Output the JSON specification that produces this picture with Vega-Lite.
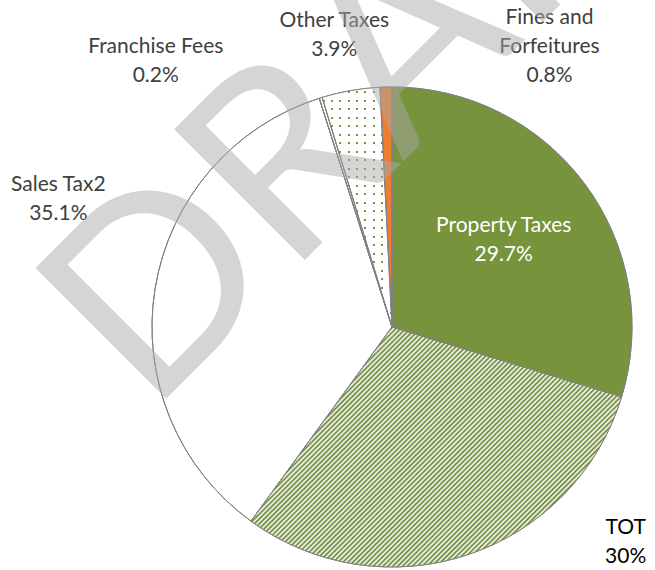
{
"$schema": "https://vega.github.io/schema/vega-lite/v6.json",
"width": 480, "height": 480,
"autosize": {"type": "none"},
"padding": {"left": 152, "top": 87, "right": 23, "bottom": 3},
"background": "white",
"config": {"view": {"stroke": null}},
"layer": [
{
"data": {"values": [
{"category": "Property Taxes", "value": 29.7, "order": 1, "label": "Property Taxes\n29.7%"},
{"category": "TOT", "value": 30.3, "order": 2, "label": "TOT\n30%"},
{"category": "Sales Tax2", "value": 35.1, "order": 3, "label": "Sales Tax2\n35.1%"},
{"category": "Franchise Fees", "value": 0.2, "order": 4, "label": "Franchise Fees\n0.2%"},
{"category": "Other Taxes", "value": 3.9, "order": 5, "label": "Other Taxes\n3.9%"},
{"category": "Fines and Forfeitures", "value": 0.8, "order": 6, "label": "Fines and\nForfeitures\n0.8%"}
]},
"encoding": {
"theta": {"field": "value", "type": "quantitative", "stack": true},
"order": {"field": "order", "type": "quantitative"}
},
"layer": [
{"mark": {"type": "arc", "outerRadius": 240, "stroke": "#808080", "strokeWidth": 1},
"encoding": {"fill": {"condition": [{"test": "datum.category === 'Property Taxes'", "value": "#77933c"}, {"test": "datum.category === 'Fines and Forfeitures'", "value": "#ed7d31"}, {"test": "datum.category === 'Other Taxes'", "value": "#77933c"}], "value": "#ffffff"}}},
{"mark": {"type": "arc", "outerRadius": 240, "strokeWidth": 0, "fill": {"gradient": "linear", "x1": 0, "y1": 0, "x2": 1, "y2": 0, "stops": [
{"offset":0,"color":"#fff"},
{"offset":0.006,"color":"#fff"},{"offset":0.006,"color":"rgba(255,255,255,0)"},{"offset":0.034,"color":"rgba(255,255,255,0)"},{"offset":0.034,"color":"#fff"},
{"offset":0.126,"color":"#fff"},{"offset":0.126,"color":"rgba(255,255,255,0)"},{"offset":0.154,"color":"rgba(255,255,255,0)"},{"offset":0.154,"color":"#fff"},
{"offset":0.246,"color":"#fff"},{"offset":0.246,"color":"rgba(255,255,255,0)"},{"offset":0.274,"color":"rgba(255,255,255,0)"},{"offset":0.274,"color":"#fff"},
{"offset":0.366,"color":"#fff"},{"offset":0.366,"color":"rgba(255,255,255,0)"},{"offset":0.394,"color":"rgba(255,255,255,0)"},{"offset":0.394,"color":"#fff"},
{"offset":0.486,"color":"#fff"},{"offset":0.486,"color":"rgba(255,255,255,0)"},{"offset":0.514,"color":"rgba(255,255,255,0)"},{"offset":0.514,"color":"#fff"},
{"offset":0.606,"color":"#fff"},{"offset":0.606,"color":"rgba(255,255,255,0)"},{"offset":0.634,"color":"rgba(255,255,255,0)"},{"offset":0.634,"color":"#fff"},
{"offset":0.726,"color":"#fff"},{"offset":0.726,"color":"rgba(255,255,255,0)"},{"offset":0.754,"color":"rgba(255,255,255,0)"},{"offset":0.754,"color":"#fff"},
{"offset":0.846,"color":"#fff"},{"offset":0.846,"color":"rgba(255,255,255,0)"},{"offset":0.874,"color":"rgba(255,255,255,0)"},{"offset":0.874,"color":"#fff"},
{"offset":0.966,"color":"#fff"},{"offset":0.966,"color":"rgba(255,255,255,0)"},{"offset":0.994,"color":"rgba(255,255,255,0)"},{"offset":0.994,"color":"#fff"},
{"offset":1,"color":"#fff"}
]}},
"encoding": {"fillOpacity": {"condition": {"test": "datum.category === 'Other Taxes'", "value": 1}, "value": 0}}},
{"mark": {"type": "arc", "outerRadius": 240, "strokeWidth": 0, "fill": {"gradient": "linear", "x1": 0, "y1": 0, "x2": 0, "y2": 1, "stops": [
{"offset":0,"color":"#fff"},
{"offset":0.016,"color":"#fff"},{"offset":0.016,"color":"rgba(255,255,255,0)"},{"offset":0.024,"color":"rgba(255,255,255,0)"},{"offset":0.024,"color":"#fff"},
{"offset":0.0515,"color":"#fff"},{"offset":0.0515,"color":"rgba(255,255,255,0)"},{"offset":0.0595,"color":"rgba(255,255,255,0)"},{"offset":0.0595,"color":"#fff"},
{"offset":0.087,"color":"#fff"},{"offset":0.087,"color":"rgba(255,255,255,0)"},{"offset":0.095,"color":"rgba(255,255,255,0)"},{"offset":0.095,"color":"#fff"},
{"offset":0.1225,"color":"#fff"},{"offset":0.1225,"color":"rgba(255,255,255,0)"},{"offset":0.1305,"color":"rgba(255,255,255,0)"},{"offset":0.1305,"color":"#fff"},
{"offset":0.158,"color":"#fff"},{"offset":0.158,"color":"rgba(255,255,255,0)"},{"offset":0.166,"color":"rgba(255,255,255,0)"},{"offset":0.166,"color":"#fff"},
{"offset":0.1935,"color":"#fff"},{"offset":0.1935,"color":"rgba(255,255,255,0)"},{"offset":0.2015,"color":"rgba(255,255,255,0)"},{"offset":0.2015,"color":"#fff"},
{"offset":0.229,"color":"#fff"},{"offset":0.229,"color":"rgba(255,255,255,0)"},{"offset":0.237,"color":"rgba(255,255,255,0)"},{"offset":0.237,"color":"#fff"},
{"offset":0.2645,"color":"#fff"},{"offset":0.2645,"color":"rgba(255,255,255,0)"},{"offset":0.2725,"color":"rgba(255,255,255,0)"},{"offset":0.2725,"color":"#fff"},
{"offset":0.3,"color":"#fff"},{"offset":0.3,"color":"rgba(255,255,255,0)"},{"offset":0.308,"color":"rgba(255,255,255,0)"},{"offset":0.308,"color":"#fff"},
{"offset":0.3355,"color":"#fff"},{"offset":0.3355,"color":"rgba(255,255,255,0)"},{"offset":0.3435,"color":"rgba(255,255,255,0)"},{"offset":0.3435,"color":"#fff"},
{"offset":0.371,"color":"#fff"},{"offset":0.371,"color":"rgba(255,255,255,0)"},{"offset":0.379,"color":"rgba(255,255,255,0)"},{"offset":0.379,"color":"#fff"},
{"offset":0.4065,"color":"#fff"},{"offset":0.4065,"color":"rgba(255,255,255,0)"},{"offset":0.4145,"color":"rgba(255,255,255,0)"},{"offset":0.4145,"color":"#fff"},
{"offset":0.442,"color":"#fff"},{"offset":0.442,"color":"rgba(255,255,255,0)"},{"offset":0.45,"color":"rgba(255,255,255,0)"},{"offset":0.45,"color":"#fff"},
{"offset":0.4775,"color":"#fff"},{"offset":0.4775,"color":"rgba(255,255,255,0)"},{"offset":0.4855,"color":"rgba(255,255,255,0)"},{"offset":0.4855,"color":"#fff"},
{"offset":0.513,"color":"#fff"},{"offset":0.513,"color":"rgba(255,255,255,0)"},{"offset":0.521,"color":"rgba(255,255,255,0)"},{"offset":0.521,"color":"#fff"},
{"offset":0.5485,"color":"#fff"},{"offset":0.5485,"color":"rgba(255,255,255,0)"},{"offset":0.5565,"color":"rgba(255,255,255,0)"},{"offset":0.5565,"color":"#fff"},
{"offset":0.584,"color":"#fff"},{"offset":0.584,"color":"rgba(255,255,255,0)"},{"offset":0.592,"color":"rgba(255,255,255,0)"},{"offset":0.592,"color":"#fff"},
{"offset":0.6195,"color":"#fff"},{"offset":0.6195,"color":"rgba(255,255,255,0)"},{"offset":0.6275,"color":"rgba(255,255,255,0)"},{"offset":0.6275,"color":"#fff"},
{"offset":0.655,"color":"#fff"},{"offset":0.655,"color":"rgba(255,255,255,0)"},{"offset":0.663,"color":"rgba(255,255,255,0)"},{"offset":0.663,"color":"#fff"},
{"offset":0.6905,"color":"#fff"},{"offset":0.6905,"color":"rgba(255,255,255,0)"},{"offset":0.6985,"color":"rgba(255,255,255,0)"},{"offset":0.6985,"color":"#fff"},
{"offset":0.726,"color":"#fff"},{"offset":0.726,"color":"rgba(255,255,255,0)"},{"offset":0.734,"color":"rgba(255,255,255,0)"},{"offset":0.734,"color":"#fff"},
{"offset":0.7615,"color":"#fff"},{"offset":0.7615,"color":"rgba(255,255,255,0)"},{"offset":0.7695,"color":"rgba(255,255,255,0)"},{"offset":0.7695,"color":"#fff"},
{"offset":0.797,"color":"#fff"},{"offset":0.797,"color":"rgba(255,255,255,0)"},{"offset":0.805,"color":"rgba(255,255,255,0)"},{"offset":0.805,"color":"#fff"},
{"offset":0.8325,"color":"#fff"},{"offset":0.8325,"color":"rgba(255,255,255,0)"},{"offset":0.8405,"color":"rgba(255,255,255,0)"},{"offset":0.8405,"color":"#fff"},
{"offset":0.868,"color":"#fff"},{"offset":0.868,"color":"rgba(255,255,255,0)"},{"offset":0.876,"color":"rgba(255,255,255,0)"},{"offset":0.876,"color":"#fff"},
{"offset":0.9035,"color":"#fff"},{"offset":0.9035,"color":"rgba(255,255,255,0)"},{"offset":0.9115,"color":"rgba(255,255,255,0)"},{"offset":0.9115,"color":"#fff"},
{"offset":0.939,"color":"#fff"},{"offset":0.939,"color":"rgba(255,255,255,0)"},{"offset":0.947,"color":"rgba(255,255,255,0)"},{"offset":0.947,"color":"#fff"},
{"offset":0.9745,"color":"#fff"},{"offset":0.9745,"color":"rgba(255,255,255,0)"},{"offset":0.9825,"color":"rgba(255,255,255,0)"},{"offset":0.9825,"color":"#fff"},
{"offset":1,"color":"#fff"}
]}},
"encoding": {"fillOpacity": {"condition": {"test": "datum.category === 'Other Taxes'", "value": 1}, "value": 0}}},
{"mark": {"type": "arc", "outerRadius": 240, "strokeWidth": 0, "fill": {"gradient": "linear", "x1": 0, "y1": 0, "x2": 1.1609, "y2": 0.7516, "stops": [
{"offset":0,"color":"#62822a"},{"offset":0.004,"color":"#fff"},{"offset":0.008,"color":"#62822a"},{"offset":0.012,"color":"#fff"},{"offset":0.016,"color":"#62822a"},{"offset":0.02,"color":"#fff"},{"offset":0.024,"color":"#62822a"},{"offset":0.028,"color":"#fff"},{"offset":0.032,"color":"#62822a"},{"offset":0.036,"color":"#fff"},
{"offset":0.04,"color":"#62822a"},{"offset":0.044,"color":"#fff"},{"offset":0.048,"color":"#62822a"},{"offset":0.052,"color":"#fff"},{"offset":0.056,"color":"#62822a"},{"offset":0.06,"color":"#fff"},{"offset":0.064,"color":"#62822a"},{"offset":0.068,"color":"#fff"},{"offset":0.072,"color":"#62822a"},{"offset":0.076,"color":"#fff"},
{"offset":0.08,"color":"#62822a"},{"offset":0.084,"color":"#fff"},{"offset":0.088,"color":"#62822a"},{"offset":0.092,"color":"#fff"},{"offset":0.096,"color":"#62822a"},{"offset":0.1,"color":"#fff"},{"offset":0.104,"color":"#62822a"},{"offset":0.108,"color":"#fff"},{"offset":0.112,"color":"#62822a"},{"offset":0.116,"color":"#fff"},
{"offset":0.12,"color":"#62822a"},{"offset":0.124,"color":"#fff"},{"offset":0.128,"color":"#62822a"},{"offset":0.132,"color":"#fff"},{"offset":0.136,"color":"#62822a"},{"offset":0.14,"color":"#fff"},{"offset":0.144,"color":"#62822a"},{"offset":0.148,"color":"#fff"},{"offset":0.152,"color":"#62822a"},{"offset":0.156,"color":"#fff"},
{"offset":0.16,"color":"#62822a"},{"offset":0.164,"color":"#fff"},{"offset":0.168,"color":"#62822a"},{"offset":0.172,"color":"#fff"},{"offset":0.176,"color":"#62822a"},{"offset":0.18,"color":"#fff"},{"offset":0.184,"color":"#62822a"},{"offset":0.188,"color":"#fff"},{"offset":0.192,"color":"#62822a"},{"offset":0.196,"color":"#fff"},
{"offset":0.2,"color":"#62822a"},{"offset":0.204,"color":"#fff"},{"offset":0.208,"color":"#62822a"},{"offset":0.212,"color":"#fff"},{"offset":0.216,"color":"#62822a"},{"offset":0.22,"color":"#fff"},{"offset":0.224,"color":"#62822a"},{"offset":0.228,"color":"#fff"},{"offset":0.232,"color":"#62822a"},{"offset":0.236,"color":"#fff"},
{"offset":0.24,"color":"#62822a"},{"offset":0.244,"color":"#fff"},{"offset":0.248,"color":"#62822a"},{"offset":0.252,"color":"#fff"},{"offset":0.256,"color":"#62822a"},{"offset":0.26,"color":"#fff"},{"offset":0.264,"color":"#62822a"},{"offset":0.268,"color":"#fff"},{"offset":0.272,"color":"#62822a"},{"offset":0.276,"color":"#fff"},
{"offset":0.28,"color":"#62822a"},{"offset":0.284,"color":"#fff"},{"offset":0.288,"color":"#62822a"},{"offset":0.292,"color":"#fff"},{"offset":0.296,"color":"#62822a"},{"offset":0.3,"color":"#fff"},{"offset":0.304,"color":"#62822a"},{"offset":0.308,"color":"#fff"},{"offset":0.312,"color":"#62822a"},{"offset":0.316,"color":"#fff"},
{"offset":0.32,"color":"#62822a"},{"offset":0.324,"color":"#fff"},{"offset":0.328,"color":"#62822a"},{"offset":0.332,"color":"#fff"},{"offset":0.336,"color":"#62822a"},{"offset":0.34,"color":"#fff"},{"offset":0.344,"color":"#62822a"},{"offset":0.348,"color":"#fff"},{"offset":0.352,"color":"#62822a"},{"offset":0.356,"color":"#fff"},
{"offset":0.36,"color":"#62822a"},{"offset":0.364,"color":"#fff"},{"offset":0.368,"color":"#62822a"},{"offset":0.372,"color":"#fff"},{"offset":0.376,"color":"#62822a"},{"offset":0.38,"color":"#fff"},{"offset":0.384,"color":"#62822a"},{"offset":0.388,"color":"#fff"},{"offset":0.392,"color":"#62822a"},{"offset":0.396,"color":"#fff"},
{"offset":0.4,"color":"#62822a"},{"offset":0.404,"color":"#fff"},{"offset":0.408,"color":"#62822a"},{"offset":0.412,"color":"#fff"},{"offset":0.416,"color":"#62822a"},{"offset":0.42,"color":"#fff"},{"offset":0.424,"color":"#62822a"},{"offset":0.428,"color":"#fff"},{"offset":0.432,"color":"#62822a"},{"offset":0.436,"color":"#fff"},
{"offset":0.44,"color":"#62822a"},{"offset":0.444,"color":"#fff"},{"offset":0.448,"color":"#62822a"},{"offset":0.452,"color":"#fff"},{"offset":0.456,"color":"#62822a"},{"offset":0.46,"color":"#fff"},{"offset":0.464,"color":"#62822a"},{"offset":0.468,"color":"#fff"},{"offset":0.472,"color":"#62822a"},{"offset":0.476,"color":"#fff"},
{"offset":0.48,"color":"#62822a"},{"offset":0.484,"color":"#fff"},{"offset":0.488,"color":"#62822a"},{"offset":0.492,"color":"#fff"},{"offset":0.496,"color":"#62822a"},{"offset":0.5,"color":"#fff"},{"offset":0.504,"color":"#62822a"},{"offset":0.508,"color":"#fff"},{"offset":0.512,"color":"#62822a"},{"offset":0.516,"color":"#fff"},
{"offset":0.52,"color":"#62822a"},{"offset":0.524,"color":"#fff"},{"offset":0.528,"color":"#62822a"},{"offset":0.532,"color":"#fff"},{"offset":0.536,"color":"#62822a"},{"offset":0.54,"color":"#fff"},{"offset":0.544,"color":"#62822a"},{"offset":0.548,"color":"#fff"},{"offset":0.552,"color":"#62822a"},{"offset":0.556,"color":"#fff"},
{"offset":0.56,"color":"#62822a"},{"offset":0.564,"color":"#fff"},{"offset":0.568,"color":"#62822a"},{"offset":0.572,"color":"#fff"},{"offset":0.576,"color":"#62822a"},{"offset":0.58,"color":"#fff"},{"offset":0.584,"color":"#62822a"},{"offset":0.588,"color":"#fff"},{"offset":0.592,"color":"#62822a"},{"offset":0.596,"color":"#fff"},
{"offset":0.6,"color":"#62822a"},{"offset":0.604,"color":"#fff"},{"offset":0.608,"color":"#62822a"},{"offset":0.612,"color":"#fff"},{"offset":0.616,"color":"#62822a"},{"offset":0.62,"color":"#fff"},{"offset":0.624,"color":"#62822a"},{"offset":0.628,"color":"#fff"},{"offset":0.632,"color":"#62822a"},{"offset":0.636,"color":"#fff"},
{"offset":0.64,"color":"#62822a"},{"offset":0.644,"color":"#fff"},{"offset":0.648,"color":"#62822a"},{"offset":0.652,"color":"#fff"},{"offset":0.656,"color":"#62822a"},{"offset":0.66,"color":"#fff"},{"offset":0.664,"color":"#62822a"},{"offset":0.668,"color":"#fff"},{"offset":0.672,"color":"#62822a"},{"offset":0.676,"color":"#fff"},
{"offset":0.68,"color":"#62822a"},{"offset":0.684,"color":"#fff"},{"offset":0.688,"color":"#62822a"},{"offset":0.692,"color":"#fff"},{"offset":0.696,"color":"#62822a"},{"offset":0.7,"color":"#fff"},{"offset":0.704,"color":"#62822a"},{"offset":0.708,"color":"#fff"},{"offset":0.712,"color":"#62822a"},{"offset":0.716,"color":"#fff"},
{"offset":0.72,"color":"#62822a"},{"offset":0.724,"color":"#fff"},{"offset":0.728,"color":"#62822a"},{"offset":0.732,"color":"#fff"},{"offset":0.736,"color":"#62822a"},{"offset":0.74,"color":"#fff"},{"offset":0.744,"color":"#62822a"},{"offset":0.748,"color":"#fff"},{"offset":0.752,"color":"#62822a"},{"offset":0.756,"color":"#fff"},
{"offset":0.76,"color":"#62822a"},{"offset":0.764,"color":"#fff"},{"offset":0.768,"color":"#62822a"},{"offset":0.772,"color":"#fff"},{"offset":0.776,"color":"#62822a"},{"offset":0.78,"color":"#fff"},{"offset":0.784,"color":"#62822a"},{"offset":0.788,"color":"#fff"},{"offset":0.792,"color":"#62822a"},{"offset":0.796,"color":"#fff"},
{"offset":0.8,"color":"#62822a"},{"offset":0.804,"color":"#fff"},{"offset":0.808,"color":"#62822a"},{"offset":0.812,"color":"#fff"},{"offset":0.816,"color":"#62822a"},{"offset":0.82,"color":"#fff"},{"offset":0.824,"color":"#62822a"},{"offset":0.828,"color":"#fff"},{"offset":0.832,"color":"#62822a"},{"offset":0.836,"color":"#fff"},
{"offset":0.84,"color":"#62822a"},{"offset":0.844,"color":"#fff"},{"offset":0.848,"color":"#62822a"},{"offset":0.852,"color":"#fff"},{"offset":0.856,"color":"#62822a"},{"offset":0.86,"color":"#fff"},{"offset":0.864,"color":"#62822a"},{"offset":0.868,"color":"#fff"},{"offset":0.872,"color":"#62822a"},{"offset":0.876,"color":"#fff"},
{"offset":0.88,"color":"#62822a"},{"offset":0.884,"color":"#fff"},{"offset":0.888,"color":"#62822a"},{"offset":0.892,"color":"#fff"},{"offset":0.896,"color":"#62822a"},{"offset":0.9,"color":"#fff"},{"offset":0.904,"color":"#62822a"},{"offset":0.908,"color":"#fff"},{"offset":0.912,"color":"#62822a"},{"offset":0.916,"color":"#fff"},
{"offset":0.92,"color":"#62822a"},{"offset":0.924,"color":"#fff"},{"offset":0.928,"color":"#62822a"},{"offset":0.932,"color":"#fff"},{"offset":0.936,"color":"#62822a"},{"offset":0.94,"color":"#fff"},{"offset":0.944,"color":"#62822a"},{"offset":0.948,"color":"#fff"},{"offset":0.952,"color":"#62822a"},{"offset":0.956,"color":"#fff"},
{"offset":0.96,"color":"#62822a"},{"offset":0.964,"color":"#fff"},{"offset":0.968,"color":"#62822a"},{"offset":0.972,"color":"#fff"},{"offset":0.976,"color":"#62822a"},{"offset":0.98,"color":"#fff"},{"offset":0.984,"color":"#62822a"},{"offset":0.988,"color":"#fff"},{"offset":0.992,"color":"#62822a"},{"offset":0.996,"color":"#fff"},
{"offset":1,"color":"#62822a"}
]}},
"encoding": {"fillOpacity": {"condition": {"test": "datum.category === 'TOT'", "value": 1}, "value": 0}}},
{"mark": {"type": "arc", "outerRadius": 240, "fillOpacity": 0, "stroke": "#808080", "strokeWidth": 1}, "encoding": {}},
{"mark": {"type": "text", "font": "Lato", "fontSize": 21, "lineHeight": 29, "lineBreak": "\n", "align": "center", "baseline": "alphabetic", "color": "#ffffff", "dx": -4, "dy": -9},
"encoding": {"radius": {"value": 144}, "text": {"condition": {"test": "datum.category === 'Property Taxes'", "field": "label", "type": "nominal"}, "value": ""}}},
{"mark": {"type": "text", "font": "Lato", "fontSize": 21, "lineHeight": 29, "lineBreak": "\n", "align": "center", "baseline": "alphabetic", "color": "#000000", "dx": 151, "dy": -40},
"encoding": {"radius": {"value": 260}, "text": {"condition": {"test": "datum.category === 'TOT'", "field": "label", "type": "nominal"}, "value": ""}}},
{"mark": {"type": "text", "font": "Lato", "fontSize": 21, "lineHeight": 29, "lineBreak": "\n", "align": "center", "baseline": "alphabetic", "color": "#404040", "dx": -77, "dy": -95},
"encoding": {"radius": {"value": 260}, "text": {"condition": {"test": "datum.category === 'Sales Tax2'", "field": "label", "type": "nominal"}, "value": ""}}},
{"mark": {"type": "text", "font": "Lato", "fontSize": 21, "lineHeight": 29, "lineBreak": "\n", "align": "center", "baseline": "alphabetic", "color": "#404040", "dx": -159, "dy": -26},
"encoding": {"radius": {"value": 260}, "text": {"condition": {"test": "datum.category === 'Franchise Fees'", "field": "label", "type": "nominal"}, "value": ""}}},
{"mark": {"type": "text", "font": "Lato", "fontSize": 21, "lineHeight": 29, "lineBreak": "\n", "align": "center", "baseline": "alphabetic", "color": "#404040", "dx": -13, "dy": -44},
"encoding": {"radius": {"value": 260}, "text": {"condition": {"test": "datum.category === 'Other Taxes'", "field": "label", "type": "nominal"}, "value": ""}}},
{"mark": {"type": "text", "font": "Lato", "fontSize": 21, "lineHeight": 29, "lineBreak": "\n", "align": "center", "baseline": "alphabetic", "color": "#404040", "dx": 164, "dy": -43},
"encoding": {"radius": {"value": 260}, "text": {"condition": {"test": "datum.category === 'Fines and Forfeitures'", "field": "label", "type": "nominal"}, "value": ""}}}
]
},
{
"data": {"values": [{"watermark": "DRAFT"}]},
"mark": {"type": "text", "font": "Lato", "fontSize": 258, "angle": 315, "align": "left", "baseline": "alphabetic", "color": "#a9a9a9", "opacity": 0.48, "dx": -234, "dy": -109},
"encoding": {"text": {"field": "watermark", "type": "nominal"}}
}
]
}
